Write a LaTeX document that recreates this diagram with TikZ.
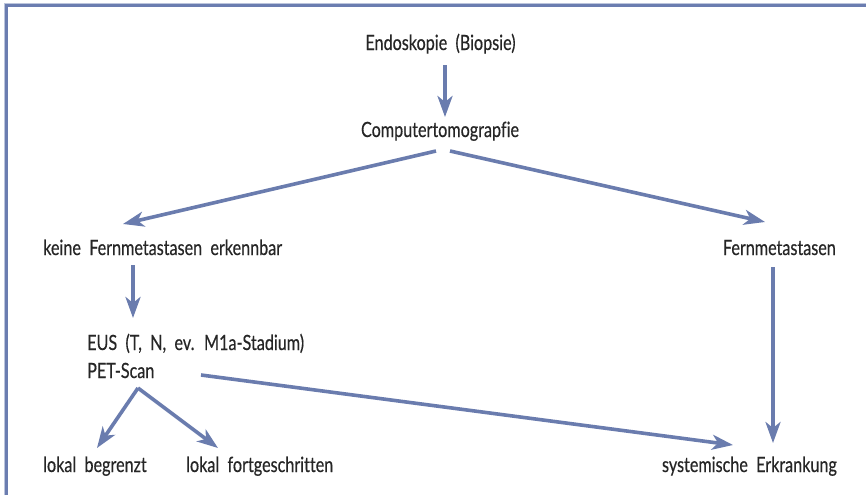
\documentclass[tikz,border=0pt]{standalone}
\usepackage{fontspec}
\setmainfont[FakeStretch=0.77, WordSpace=2.0, Ligatures=CommonOff, FakeBold=0.4]{Lato}
\usetikzlibrary{arrows.meta}
\definecolor{arrowblue}{HTML}{6A7CAE}
\definecolor{frameblue}{HTML}{6B7DB0}
\definecolor{txt}{HTML}{262626}
\tikzset{
  lbl/.style={inner sep=0pt, text=txt, font=\fontsize{21}{24}\selectfont},
  conn/.style={draw=arrowblue, line width=3.6pt,
    -{Stealth[length=21pt,width=15pt,inset=6pt]}},
}
\begin{document}
\begin{tikzpicture}[x=1pt,y=-1pt]
\useasboundingbox (0,0) rectangle (866,495);
\fill[white] (0,0) rectangle (866,495);
% frame (top and left only)
\draw[frameblue, line width=3pt] (6,495) -- (6,5.5) -- (866,5.5);
\draw[frameblue!45, line width=0.8pt] (4.2,495) -- (4.2,3.8) -- (866,3.8);

% texts
\node[lbl, anchor=base] (endo) at (440.5,50) {Endoskopie (Biopsie)};
\node[lbl, anchor=base] (ct) at (440,137) {Computertomograpfie};
\node[lbl, anchor=base west] (keine) at (43,255) {keine Fernmetastasen erkennbar};
\node[lbl, anchor=base east] (fern) at (836,255) {Fernmetastasen};
\node[lbl, anchor=base west] (eus) at (87,350) {EUS (T, N, ev. M1a-Stadium)};
\node[lbl, anchor=base west] (pet) at (87,378) {PET-Scan};
\node[lbl, anchor=base west] (lb) at (43,472) {lokal begrenzt};
\node[lbl, anchor=base west] (lf) at (186,472) {lokal fortgeschritten};
\node[lbl, anchor=base east] (sys) at (837,472) {systemische Erkrankung};

% connector end points
\coordinate (endoOut) at (445,65);
\coordinate (ctIn) at (445,117);
\coordinate (ctOutL) at (436,151);
\coordinate (ctOutR) at (450,151);
\coordinate (keineIn) at (123,224);
\coordinate (fernIn) at (765,222);
\coordinate (keineOut) at (133,265);
\coordinate (eusIn) at (133,318);
\coordinate (petOut) at (201,375);
\coordinate (sysInL) at (733,445);
\coordinate (fernOut) at (773,267);
\coordinate (sysInT) at (773,443);
\coordinate (branch) at (138,388);
\coordinate (lbIn) at (97,448);
\coordinate (lfIn) at (218,448);

% connectors
\draw[conn] (endoOut) -- (ctIn);
\draw[conn] (ctOutL) -- (keineIn);
\draw[conn] (ctOutR) -- (fernIn);
\draw[conn] (keineOut) -- (eusIn);
\draw[conn] (petOut) -- (sysInL);
\draw[conn] (fernOut) -- (sysInT);
\draw[conn] (branch) -- (lbIn);
\draw[conn] (branch) -- (lfIn);
\end{tikzpicture}
\end{document}
